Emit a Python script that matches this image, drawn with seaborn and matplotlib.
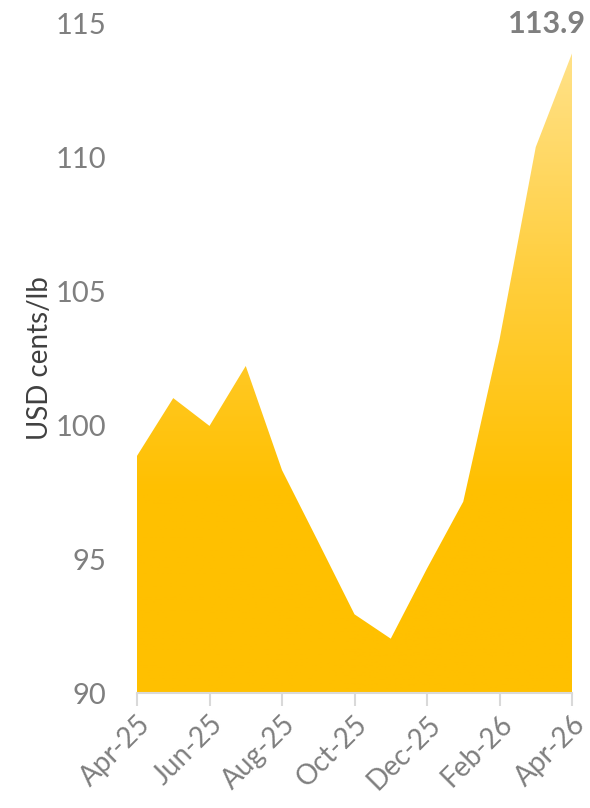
import numpy as np
import pandas as pd
import matplotlib
matplotlib.use("Agg")
import matplotlib.pyplot as plt
from matplotlib.colors import LinearSegmentedColormap
import seaborn as sns

# Monthly price series, USD cents/lb
months = ["Apr-25", "May-25", "Jun-25", "Jul-25", "Aug-25", "Sep-25", "Oct-25",
          "Nov-25", "Dec-25", "Jan-26", "Feb-26", "Mar-26", "Apr-26"]
prices = [98.86, 101.02, 99.98, 102.22, 98.33, 95.65, 92.94,
          92.03, 94.65, 97.15, 103.2, 110.4, 113.9]
y_ticks = [90, 95, 100, 105, 110, 115]
last_label = "113.9"

df = pd.DataFrame({"idx": np.arange(len(months)), "month": months, "price": prices})

sns.set_theme(style="white")
plt.rcParams["font.family"] = ["Lato", "DejaVu Sans"]

fig = plt.figure(figsize=(5.9, 8.08), dpi=100)
ax = fig.add_axes([137 / 590, 1 - 693 / 808, 435 / 590, 669 / 808])

sns.lineplot(data=df, x="idx", y="price", ax=ax, color="#FFC000", linewidth=0)

ymin, ymax = 90, 115
ax.set_xlim(0, len(months) - 1)
ax.set_ylim(ymin, ymax)

# Area fill with a vertical gradient clipped to the series polygon
poly = ax.fill_between(df["idx"], df["price"], ymin, color="none", linewidth=0)
cmap = LinearSegmentedColormap.from_list(
    "gold", [(0.0, "#FFC000"), (0.30, "#FFC000"), (0.62, "#FFCE3C"), (1.0, "#FFE493")])
grad = np.linspace(0, 1, 256).reshape(-1, 1)
img = ax.imshow(grad, cmap=cmap, aspect="auto", origin="lower",
                extent=[0, len(months) - 1, ymin, ymax], zorder=1)
path = poly.get_paths()[0]
img.set_clip_path(path, transform=ax.transData)

# Axes styling
for side in ["left", "top", "right"]:
    ax.spines[side].set_visible(False)
ax.spines["bottom"].set_color("#D9D9D9")
ax.spines["bottom"].set_linewidth(1.5)
ax.spines["bottom"].set_zorder(3)

ax.set_yticks(y_ticks)
ax.set_yticklabels([str(v) for v in y_ticks])
xt = list(range(0, len(months), 2))
ax.set_xticks(xt)
ax.set_xticklabels([months[i] for i in xt], rotation=45, ha="right",
                   rotation_mode="anchor")

ax.tick_params(axis="y", length=0, pad=22, labelsize=21, labelcolor="#7F7F7F")
ax.tick_params(axis="x", length=9, width=1.5, color="#D9D9D9", direction="out",
               bottom=True, pad=4, labelsize=20, labelcolor="#7F7F7F")
ax.grid(False)

ax.set_xlabel("")
ax.set_ylabel("USD cents/lb", fontsize=20, color="#404040", labelpad=2)

ax.annotate(last_label, xy=(len(months) - 1, prices[-1]), xytext=(586, 808 - 24),
            textcoords="figure pixels", ha="right", va="center",
            fontsize=22, fontweight="bold", color="#7F7F7F", annotation_clip=False)

fig.savefig("out.png", dpi=100)
